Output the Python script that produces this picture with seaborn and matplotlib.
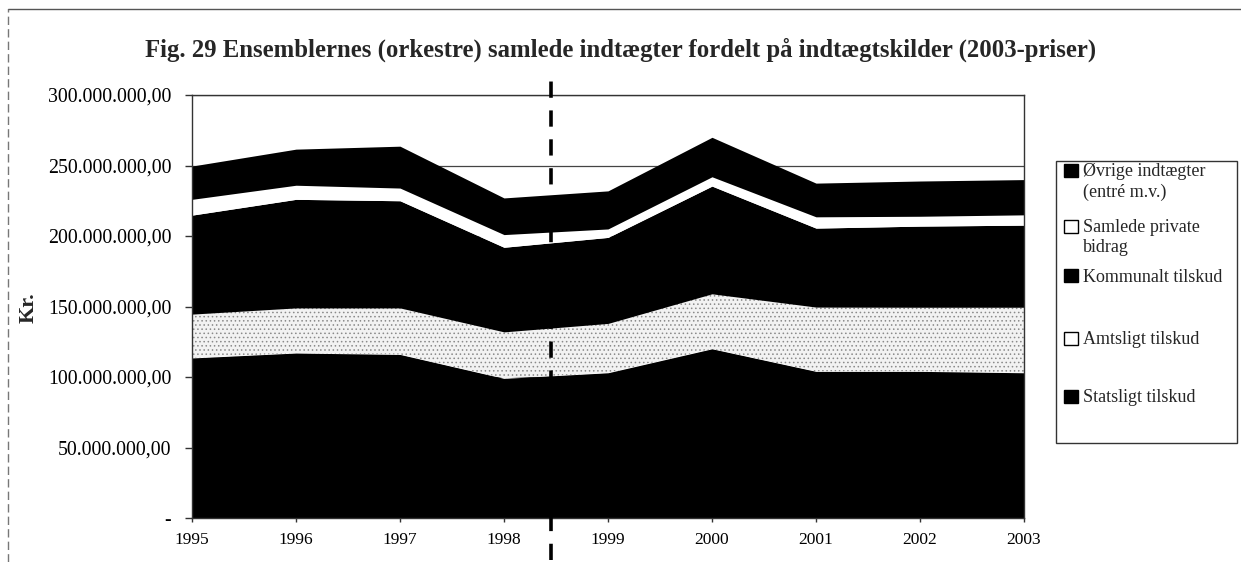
import matplotlib
matplotlib.use("Agg")
import matplotlib.pyplot as plt
from matplotlib.patches import Patch, Rectangle
from matplotlib.lines import Line2D
from matplotlib.ticker import FuncFormatter
import seaborn as sns
import numpy as np

years = [1995, 1996, 1997, 1998, 1999, 2000, 2001, 2002, 2003]
statsligt = [113.5, 117.0, 116.0, 99.0, 103.0, 120.0, 104.0, 104.0, 103.0]
amtsligt = [31.1, 32.0, 33.0, 33.0, 35.0, 39.0, 45.6, 45.5, 46.5]
kommunalt = [70.2, 77.0, 76.0, 60.0, 61.0, 76.4, 56.0, 57.5, 58.2]
private = [11.2, 10.0, 9.0, 9.0, 6.0, 6.6, 8.0, 7.0, 7.3]
oevrige = [23.6, 25.6, 29.7, 26.0, 27.0, 28.0, 23.9, 25.0, 25.0]
series_labels = ["Statsligt tilskud", "Amtsligt tilskud", "Kommunalt tilskud",
                 "Samlede private\nbidrag", "Øvrige indtægter\n(entré m.v.)"]
yticks = [0, 50, 100, 150, 200, 250, 300]
divider_year = 1998.45

sns.set_theme(style="white")
plt.rcParams['font.family'] = ['Liberation Serif', 'DejaVu Serif']
plt.rcParams['hatch.linewidth'] = 0.6

fig = plt.figure(figsize=(12.41, 5.62), dpi=100)
ax = fig.add_axes([192/1241, 1-518/562, (1024-192)/1241, (518-95)/562])

scale = 1e6
data = [np.array(s) * scale for s in [statsligt, amtsligt, kommunalt, private, oevrige]]
colors = ["black", "#f2f2f2", "black", "white", "black"]
polys = ax.stackplot(years, *data, colors=colors, linewidth=0, zorder=2)
polys[1].set_hatch("....")
polys[1].set_edgecolor("#8a8a8a")
polys[1].set_linewidth(0)

ax.set_xlim(years[0], years[-1])
ax.set_ylim(0, 300e6)
ax.set_xticks(years)
ax.set_xticklabels([str(y) for y in years])
ax.set_yticks([v * scale for v in yticks])

def fmt(v, pos):
    if v == 0:
        return "-"
    s = f"{v:,.2f}"
    return s.replace(",", "X").replace(".", ",").replace("X", ".")
ax.yaxis.set_major_formatter(FuncFormatter(fmt))

ax.grid(axis="y", color="#444444", linewidth=0.9, zorder=0)
ax.set_axisbelow(True)
for sp in ax.spines.values():
    sp.set_visible(True)
    sp.set_color("#333333")
    sp.set_linewidth(1.0)
ax.tick_params(axis="y", which="major", left=True, direction="out", length=5,
               width=1, color="#333333", labelsize=14.3, pad=10)
ax.tick_params(axis="x", which="major", bottom=True, direction="out", length=3,
               width=1, color="#333333", labelsize=12.5, pad=7)
for lab in ax.get_yticklabels() + ax.get_xticklabels():
    lab.set_color("black")

# divider line
ax.plot([divider_year, divider_year], [-30e6, 310e6], color="black", lw=2.6,
        linestyle=(0, (4.5, 3.5)), clip_on=False, zorder=5)

fig.text(621/1241, 1-50/562,
         "Fig. 29 Ensemblernes (orkestre) samlede indtægter fordelt på indtægtskilder (2003-priser)",
         ha="center", va="center", fontsize=17.8, fontweight="bold")
fig.text(29/1241, 1-308/562, "Kr.", rotation=90, ha="center", va="center",
         fontsize=16, fontweight="bold")

# legend box
fig.patches.append(Rectangle((1056/1241, 1-443/562), (1237-1056)/1241, (443-161)/562,
                             transform=fig.transFigure, facecolor="white",
                             edgecolor="#333333", linewidth=1.0))
face = {"Statsligt tilskud": "black", "Amtsligt tilskud": "white",
        "Kommunalt tilskud": "black", "Samlede private\nbidrag": "white",
        "Øvrige indtægter\n(entré m.v.)": "black"}
row_y = [172, 192, 228, 247, 277, 340, 398]
rows = []
for lab in reversed(series_labels):
    parts = lab.split("\n")
    rows.append((Patch(facecolor=face[lab], edgecolor="black"), parts[0]))
    for p in parts[1:]:
        rows.append((Patch(facecolor="none", edgecolor="none"), p))
for (h, t), yy in zip(rows, row_y):
    fig.legend([h], [t], loc="center left", bbox_to_anchor=(1064/1241, 1-yy/562),
               frameon=False, fontsize=13, handlelength=0.75, handleheight=0.75,
               handletextpad=0.3, borderpad=0, borderaxespad=0)

# page border
fig.add_artist(Line2D([8/1241, 1], [1-9/562, 1-9/562], transform=fig.transFigure,
                      color="#555555", lw=1))
fig.add_artist(Line2D([8/1241, 8/1241], [0, 1-9/562], transform=fig.transFigure,
                      color="#777777", lw=1, linestyle=(0, (6, 3))))

fig.savefig("out.png", dpi=100)
